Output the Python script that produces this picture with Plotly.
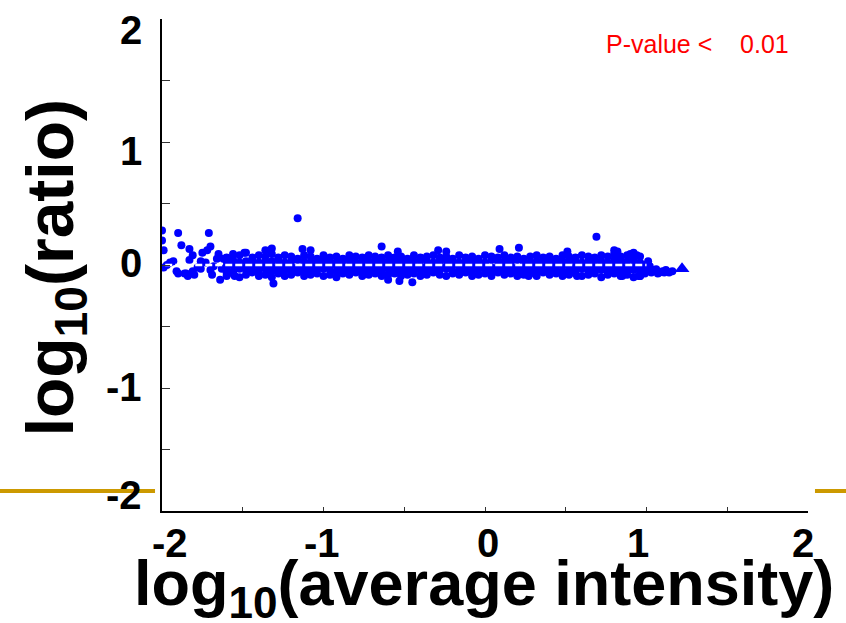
import plotly.graph_objects as go

# ---- data ----
xtick_vals = [-2, -1.5, -1, -0.5, 0, 0.5, 1, 1.5, 2]
ytick_vals = [-2, -1.5, -1, -0.5, 0, 0.5, 1, 1.5, 2]
xlabel_text = ["-2", "-1", "0", "1", "2"]
xlabel_pos = [-1.95, -1.01, 0.02, 0.95, 1.97]
ylabel_text = ["2", "1", "0", "-1", "-2"]
ylabel_pos = [1.91, 0.93, 0.02, -0.99, -1.87]

left_x = [-2.00, -2.00, -1.99, -1.90, -1.71, -1.88, -1.83, -1.81, -1.83, -1.99, -1.97, -1.95,
          -1.93, -1.91, -1.90, -1.86, -1.85, -1.81, -1.76, -1.76, -1.75, -1.72, -1.70, -1.73,
          -1.70, -1.69, -1.65, -1.64, -1.62, -1.66, -1.68, -1.60, -1.63, -1.78, -1.80, -1.84]
left_y = [0.28, 0.20, 0.12, 0.26, 0.26, 0.16, 0.13, 0.08, 0.04, -0.02, 0.00, 0.02,
          0.03, -0.05, -0.07, -0.07, -0.07, -0.05, -0.03, 0.03, 0.10, 0.12, 0.15, 0.02,
          -0.04, -0.08, 0.09, -0.12, 0.05, 0.05, -0.01, -0.06, -0.03, -0.02, -0.08, -0.09]

core_x = [-1.60, -1.56, -1.52, -1.48, -1.44, -1.40, -1.36, -1.32, -1.28, -1.24, -1.20, -1.16, -1.12,
          -1.08, -1.04, -1.00, -0.96, -0.92, -0.88, -0.84, -0.80, -0.76, -0.72, -0.68, -0.64, -0.60,
          -0.56, -0.52, -0.48, -0.44, -0.40, -0.36, -0.32, -0.28, -0.24, -0.20, -0.16, -0.12, -0.08,
          -0.04, 0.00, 0.04, 0.08, 0.12, 0.16, 0.20, 0.24, 0.28, 0.32, 0.36, 0.40, 0.44,
          0.48, 0.52, 0.56, 0.60, 0.64, 0.68, 0.72, 0.76, 0.80, 0.84, 0.88, 0.92, 0.96]
core_y1 = [0.06, 0.09, 0.08, 0.10, 0.06, 0.08, 0.07, 0.09, 0.06, 0.08, 0.07, 0.05, 0.08,
           0.07, 0.05, 0.08, 0.06, 0.07, 0.05, 0.08, 0.07, 0.06, 0.08, 0.07, 0.06, 0.08,
           0.06, 0.07, 0.05, 0.08, 0.06, 0.07, 0.08, 0.06, 0.07, 0.05, 0.08, 0.06, 0.07,
           0.05, 0.08, 0.07, 0.06, 0.08, 0.06, 0.07, 0.05, 0.07, 0.08, 0.06, 0.07, 0.05,
           0.08, 0.07, 0.06, 0.08, 0.07, 0.06, 0.08, 0.07, 0.09, 0.07, 0.08, 0.09, 0.07]
core_y2 = [0.03, 0.04, 0.02, 0.03, 0.04, 0.02, 0.03, 0.03, 0.04, 0.02, 0.03, 0.04, 0.03,
           0.02, 0.03, 0.04, 0.03, 0.02, 0.03, 0.04, 0.02, 0.03, 0.03, 0.04, 0.02, 0.03,
           0.04, 0.03, 0.02, 0.03, 0.04, 0.03, 0.02, 0.03, 0.04, 0.03, 0.02, 0.03, 0.04,
           0.03, 0.02, 0.04, 0.03, 0.03, 0.02, 0.04, 0.03, 0.02, 0.03, 0.04, 0.03, 0.02,
           0.03, 0.04, 0.03, 0.02, 0.03, 0.04, 0.03, 0.02, 0.04, 0.03, 0.03, 0.04, 0.02]
core_y3 = [-0.01, 0.00, -0.01, -0.02, 0.00, -0.01, 0.00, -0.02, -0.01, 0.00, -0.01, -0.02, 0.00,
           -0.01, -0.02, 0.00, -0.01, 0.00, -0.02, -0.01, 0.00, -0.01, -0.02, 0.00, -0.01, -0.01,
           0.00, -0.01, -0.02, 0.00, -0.01, -0.01, 0.00, -0.02, -0.01, 0.00, -0.01, -0.02, 0.00,
           -0.01, 0.00, -0.02, -0.01, 0.00, -0.01, -0.02, 0.00, -0.01, -0.01, 0.00, -0.02, -0.01,
           0.00, -0.01, -0.02, -0.01, 0.00, -0.01, -0.02, -0.01, 0.00, -0.01, -0.02, -0.01, -0.02]
core_y4 = [-0.04, -0.05, -0.03, -0.04, -0.05, -0.04, -0.03, -0.05, -0.04, -0.04, -0.05, -0.03, -0.04,
           -0.05, -0.04, -0.03, -0.04, -0.05, -0.04, -0.04, -0.03, -0.05, -0.04, -0.04, -0.05, -0.03,
           -0.04, -0.05, -0.04, -0.03, -0.04, -0.05, -0.04, -0.04, -0.03, -0.05, -0.04, -0.04, -0.05,
           -0.03, -0.04, -0.05, -0.04, -0.04, -0.03, -0.05, -0.04, -0.04, -0.05, -0.03, -0.04, -0.04,
           -0.05, -0.04, -0.04, -0.03, -0.05, -0.04, -0.04, -0.05, -0.03, -0.04, -0.05, -0.04, -0.05]
core_y5 = [-0.09, -0.07, -0.10, -0.08, -0.06, -0.09, -0.08, -0.10, -0.07, -0.09, -0.08, -0.06, -0.09,
           -0.08, -0.07, -0.09, -0.08, -0.10, -0.07, -0.08, -0.06, -0.09, -0.08, -0.07, -0.09, -0.08,
           -0.07, -0.09, -0.08, -0.07, -0.09, -0.08, -0.06, -0.08, -0.09, -0.07, -0.08, -0.06, -0.09,
           -0.08, -0.07, -0.09, -0.06, -0.08, -0.07, -0.09, -0.08, -0.07, -0.09, -0.06, -0.08, -0.07,
           -0.09, -0.08, -0.07, -0.09, -0.08, -0.07, -0.10, -0.08, -0.07, -0.09, -0.08, -0.10, -0.09]

out_x = [-1.16, -1.31, -1.13, -1.33, -1.36, -1.32, -1.08, -1.49, -0.64, -0.54, -0.24, -0.29,
         -0.60, -0.53, -0.45, 0.69, 0.09, 0.21, 0.51, 0.80, 0.82, 0.27, 0.57, 0.85, 0.95, 0.94, -1.55]
out_y = [0.38, -0.15, 0.13, 0.12, 0.12, 0.135, 0.12, 0.10, 0.15, 0.11, 0.11, 0.12,
         -0.12, -0.13, -0.14, 0.23, 0.13, 0.14, 0.11, 0.12, 0.11, -0.09, -0.09, -0.09, -0.09, 0.08, -0.09]

tail_x = [0.98, 1.00, 1.02, 1.04, 1.06, 1.08, 1.10, 1.12, 1.14, 1.16, 0.99, 1.03, 1.07, 1.11,
          0.98, 1.01, 0.96, 0.90, 0.92]
tail_y = [-0.05, -0.02, -0.01, -0.04, -0.035, -0.06, -0.05, -0.04, -0.06, -0.05, -0.07, -0.06,
          -0.07, -0.06, 0.00, 0.03, -0.09, 0.09, 0.10]

tri_x = [1.22]
tri_y = [-0.03]

ref_x = [-1.98, 1.00]
ref_y = [0.0, 0.0]

BLUE = "#0000FF"
FONT = "Liberation Sans, Arial, sans-serif"

fig = go.Figure()
mk = dict(color=BLUE, size=8, line=dict(width=0))
fig.add_trace(go.Scatter(x=left_x, y=left_y, mode="markers", marker=mk))
for ys in [core_y1, core_y2, core_y3, core_y4, core_y5]:
    fig.add_trace(go.Scatter(x=core_x, y=ys, mode="markers", marker=mk))
fig.add_trace(go.Scatter(x=out_x, y=out_y, mode="markers", marker=mk))
fig.add_trace(go.Scatter(x=tail_x, y=tail_y, mode="markers", marker=mk))
fig.add_trace(go.Scatter(x=ref_x, y=ref_y, mode="lines",
                         line=dict(color="white", width=2.5, dash="7px,3px")))
fig.add_trace(go.Scatter(x=tri_x, y=tri_y, mode="markers",
                         marker=dict(symbol="triangle-up", color=BLUE, size=13, line=dict(width=0))))

axis_common = dict(showgrid=False, zeroline=False, showline=True, linecolor="black",
                   linewidth=1.5, ticks="inside", tickcolor="#333333", showticklabels=False,
                   range=[-2, 2], fixedrange=True)
fig.update_xaxes(tickvals=xtick_vals, ticklen=4, **axis_common)
fig.update_yaxes(tickvals=ytick_vals, ticklen=8, **axis_common)

ann = []
for t, p in zip(xlabel_text, xlabel_pos):
    ann.append(dict(x=p, y=-0.016, xref="x", yref="paper", text="<b>%s</b>" % t,
                    showarrow=False, xanchor="center", yanchor="top",
                    font=dict(family=FONT, size=40, color="black")))
for t, p in zip(ylabel_text, ylabel_pos):
    ann.append(dict(x=-0.028, y=p, xref="paper", yref="y", text="<b>%s</b>" % t,
                    showarrow=False, xanchor="right", yanchor="middle",
                    font=dict(family=FONT, size=40, color="black")))
ann.append(dict(x=0.499, y=-0.156, xref="paper", yref="paper",
                text="<b>log<sub>10</sub>(average intensity)</b>", showarrow=False,
                xanchor="center", yanchor="middle", font=dict(family=FONT, size=63, color="black")))
ann.append(dict(x=-0.165, y=0.494, xref="paper", yref="paper", textangle=-90,
                text="<b>log<sub>10</sub>(ratio)</b>", showarrow=False,
                xanchor="center", yanchor="middle", font=dict(family=FONT, size=66, color="black")))
ann.append(dict(x=0.684, y=0.949, xref="paper", yref="paper",
                text="P-value <\u00a0\u00a0\u00a0 0.01", showarrow=False,
                xanchor="left", yanchor="middle", font=dict(family=FONT, size=25, color="#FF0000")))

gold = "#CC9900"
shapes = [
    dict(type="line", xref="paper", yref="paper", x0=-0.26, x1=-0.0108, y0=0.0407, y1=0.0407,
         line=dict(color=gold, width=4), layer="below"),
    dict(type="line", xref="paper", yref="paper", x0=1.0108, x1=1.07, y0=0.0407, y1=0.0407,
         line=dict(color=gold, width=4), layer="below"),
]

fig.update_layout(width=846, height=623, showlegend=False,
                  paper_bgcolor="white", plot_bgcolor="white",
                  margin=dict(l=162, r=38, t=19, b=112),
                  annotations=ann, shapes=shapes)

fig.write_html("out.html", config={"displayModeBar": False},
               post_script="document.body.style.margin='0';document.body.style.overflow='hidden';")
